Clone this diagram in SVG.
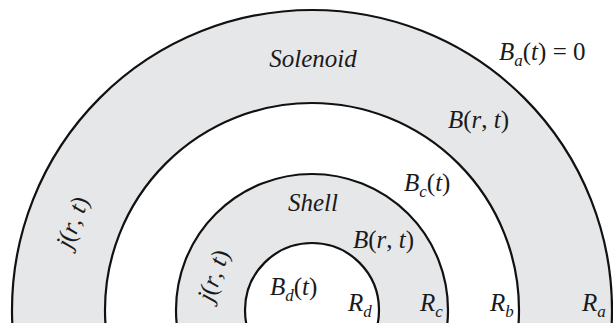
<svg xmlns="http://www.w3.org/2000/svg" width="613" height="323" viewBox="0 0 613 323">
<style>
.ring{stroke:#111;stroke-width:2.2}
.g{fill:#e6e7e9}
.w{fill:#fff}
.lab{font-family:'Liberation Serif','DejaVu Serif',serif;font-size:25px;fill:#1a1a1a}
.i{font-style:italic}
.s{font-size:17px;font-style:italic}
</style>
<rect width="613" height="323" fill="#fff"/>
<g id="rings">
<circle id="solenoid-outer" class="ring g" cx="312" cy="310" r="300"/>
<circle id="solenoid-inner" class="ring w" cx="312" cy="310" r="207"/>
<circle id="shell-outer" class="ring g" cx="312" cy="310" r="136"/>
<circle id="shell-inner" class="ring w" cx="312" cy="310" r="67"/>
</g>
<g id="labels" class="lab" font-family="Liberation Serif, DejaVu Serif, serif">
<text class="i" x="313" y="67" text-anchor="middle">Solenoid</text>
<text x="499" y="60"><tspan class="i">B</tspan><tspan class="s" dy="6">a</tspan><tspan dy="-6">(</tspan><tspan class="i">t</tspan>) = 0</text>
<text x="448" y="128"><tspan class="i">B</tspan>(<tspan class="i">r</tspan>, <tspan class="i">t</tspan>)</text>
<text x="404" y="191"><tspan class="i">B</tspan><tspan class="s" dy="6">c</tspan><tspan dy="-6">(</tspan><tspan class="i">t</tspan>)</text>
<text class="i" x="313" y="211" text-anchor="middle">Shell</text>
<text x="353" y="248"><tspan class="i">B</tspan>(<tspan class="i">r</tspan>, <tspan class="i">t</tspan>)</text>
<text x="270" y="295"><tspan class="i">B</tspan><tspan class="s" dy="6">d</tspan><tspan dy="-6">(</tspan><tspan class="i">t</tspan>)</text>
<text x="348" y="311"><tspan class="i">R</tspan><tspan class="s" dy="6">d</tspan></text>
<text x="420" y="311"><tspan class="i">R</tspan><tspan class="s" dy="6">c</tspan></text>
<text x="490" y="311"><tspan class="i">R</tspan><tspan class="s" dy="6">b</tspan></text>
<text x="582" y="311"><tspan class="i">R</tspan><tspan class="s" dy="6">a</tspan></text>
<text transform="translate(80,225) rotate(-70)" text-anchor="middle"><tspan class="i">j</tspan>(<tspan class="i">r</tspan>, <tspan class="i">t</tspan>)</text>
<text transform="translate(221,278) rotate(-71)" text-anchor="middle"><tspan class="i">j</tspan>(<tspan class="i">r</tspan>, <tspan class="i">t</tspan>)</text>
</g>
</svg>
